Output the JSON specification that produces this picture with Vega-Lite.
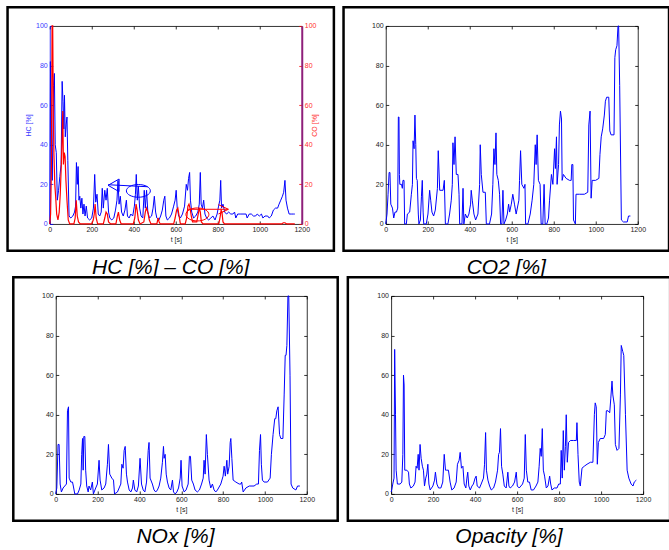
{
  "$schema": "https://vega.github.io/schema/vega-lite/v6.json",
  "background": "white",
  "padding": {"left": 5.75, "top": 4.95, "right": 0, "bottom": 0},
  "datasets": {
    "hc": [{"t":0,"v":0},{"t":3,"v":82},{"t":7,"v":42},{"t":12,"v":22},{"t":18,"v":70},{"t":22,"v":76},{"t":26,"v":40},{"t":31,"v":36},{"t":36,"v":12},{"t":42,"v":17},{"t":48,"v":24},{"t":54,"v":30},{"t":59,"v":72},{"t":63,"v":62},{"t":67,"v":48},{"t":70,"v":65},{"t":74,"v":44},{"t":78,"v":50},{"t":82,"v":54},{"t":86,"v":32},{"t":92,"v":4},{"t":100,"v":3},{"t":110,"v":4},{"t":118,"v":6},{"t":123,"v":9},{"t":127,"v":31},{"t":131,"v":20},{"t":135,"v":29},{"t":139,"v":12},{"t":143,"v":14},{"t":148,"v":8},{"t":153,"v":13},{"t":158,"v":5},{"t":163,"v":10},{"t":168,"v":4},{"t":174,"v":9},{"t":180,"v":3},{"t":190,"v":2},{"t":200,"v":3},{"t":208,"v":8},{"t":214,"v":25},{"t":219,"v":11},{"t":225,"v":15},{"t":231,"v":5},{"t":238,"v":4},{"t":245,"v":6},{"t":250,"v":18},{"t":255,"v":8},{"t":262,"v":17},{"t":268,"v":12},{"t":274,"v":18},{"t":280,"v":6},{"t":286,"v":3},{"t":295,"v":2},{"t":305,"v":3},{"t":313,"v":7},{"t":320,"v":12},{"t":325,"v":22},{"t":330,"v":10},{"t":336,"v":14},{"t":342,"v":6},{"t":350,"v":4},{"t":358,"v":7},{"t":365,"v":12},{"t":370,"v":4},{"t":378,"v":3},{"t":386,"v":5},{"t":395,"v":4},{"t":403,"v":9},{"t":408,"v":15},{"t":412,"v":25},{"t":417,"v":12},{"t":422,"v":19},{"t":428,"v":8},{"t":435,"v":4},{"t":443,"v":3},{"t":450,"v":17},{"t":455,"v":8},{"t":461,"v":17},{"t":467,"v":6},{"t":475,"v":3},{"t":485,"v":4},{"t":492,"v":8},{"t":498,"v":14},{"t":504,"v":6},{"t":510,"v":3},{"t":520,"v":2},{"t":528,"v":4},{"t":536,"v":7},{"t":543,"v":12},{"t":548,"v":14},{"t":553,"v":4},{"t":560,"v":2},{"t":570,"v":3},{"t":580,"v":5},{"t":590,"v":9},{"t":597,"v":12},{"t":602,"v":17},{"t":607,"v":8},{"t":614,"v":4},{"t":622,"v":3},{"t":632,"v":5},{"t":642,"v":9},{"t":650,"v":20},{"t":656,"v":17},{"t":661,"v":23},{"t":666,"v":26},{"t":670,"v":12},{"t":676,"v":6},{"t":685,"v":3},{"t":695,"v":4},{"t":705,"v":6},{"t":712,"v":10},{"t":717,"v":26},{"t":721,"v":10},{"t":727,"v":8},{"t":733,"v":12},{"t":739,"v":5},{"t":747,"v":3},{"t":757,"v":2},{"t":767,"v":3},{"t":777,"v":4},{"t":787,"v":2},{"t":797,"v":5},{"t":804,"v":9},{"t":810,"v":12},{"t":814,"v":22},{"t":818,"v":8},{"t":825,"v":10},{"t":833,"v":6},{"t":842,"v":5},{"t":852,"v":6},{"t":862,"v":5},{"t":872,"v":5},{"t":880,"v":6},{"t":886,"v":3},{"t":895,"v":5},{"t":910,"v":5},{"t":925,"v":5},{"t":935,"v":5},{"t":940,"v":3},{"t":950,"v":5},{"t":960,"v":5},{"t":970,"v":4},{"t":980,"v":4},{"t":988,"v":5},{"t":998,"v":4},{"t":1008,"v":5},{"t":1015,"v":3},{"t":1025,"v":4},{"t":1038,"v":4},{"t":1045,"v":3},{"t":1055,"v":4},{"t":1065,"v":7},{"t":1075,"v":8},{"t":1085,"v":8},{"t":1092,"v":10},{"t":1100,"v":12},{"t":1108,"v":14},{"t":1114,"v":16},{"t":1120,"v":22},{"t":1125,"v":12},{"t":1132,"v":8},{"t":1140,"v":5},{"t":1150,"v":5},{"t":1160,"v":5},{"t":1167,"v":5}],
    "co": [{"t":0,"v":0},{"t":4,"v":5},{"t":8,"v":30},{"t":11,"v":100},{"t":14,"v":100},{"t":17,"v":55},{"t":20,"v":35},{"t":24,"v":20},{"t":28,"v":14},{"t":33,"v":5},{"t":39,"v":2},{"t":45,"v":6},{"t":50,"v":15},{"t":55,"v":30},{"t":59,"v":45},{"t":62,"v":57},{"t":65,"v":30},{"t":69,"v":36},{"t":73,"v":34},{"t":77,"v":22},{"t":82,"v":12},{"t":88,"v":2},{"t":95,"v":0},{"t":115,"v":0},{"t":121,"v":3},{"t":126,"v":12},{"t":131,"v":4},{"t":137,"v":1},{"t":145,"v":0},{"t":200,"v":0},{"t":207,"v":2},{"t":212,"v":5},{"t":216,"v":10},{"t":221,"v":3},{"t":228,"v":0},{"t":255,"v":0},{"t":262,"v":3},{"t":268,"v":6},{"t":274,"v":5},{"t":280,"v":1},{"t":290,"v":0},{"t":315,"v":0},{"t":322,"v":4},{"t":327,"v":6},{"t":333,"v":2},{"t":340,"v":0},{"t":398,"v":0},{"t":405,"v":3},{"t":411,"v":10},{"t":416,"v":7},{"t":422,"v":2},{"t":430,"v":0},{"t":448,"v":1},{"t":455,"v":6},{"t":460,"v":8},{"t":467,"v":6},{"t":474,"v":2},{"t":482,"v":0},{"t":510,"v":0},{"t":516,"v":3},{"t":521,"v":1},{"t":526,"v":0},{"t":590,"v":0},{"t":597,"v":3},{"t":604,"v":7},{"t":610,"v":8},{"t":616,"v":4},{"t":622,"v":0},{"t":645,"v":0},{"t":652,"v":3},{"t":658,"v":9},{"t":663,"v":10},{"t":668,"v":8},{"t":674,"v":4},{"t":680,"v":1},{"t":700,"v":1},{"t":707,"v":5},{"t":712,"v":8},{"t":717,"v":6},{"t":722,"v":1},{"t":730,"v":0},{"t":805,"v":0},{"t":812,"v":4},{"t":816,"v":7},{"t":820,"v":6},{"t":825,"v":1},{"t":832,"v":0},{"t":1105,"v":0},{"t":1112,"v":0.6},{"t":1120,"v":0.6},{"t":1128,"v":0},{"t":1167,"v":0}],
    "co2": [{"t":0,"v":0},{"t":6,"v":5},{"t":11,"v":15},{"t":16,"v":26},{"t":20,"v":26},{"t":24,"v":10},{"t":32,"v":8},{"t":38,"v":3},{"t":44,"v":6},{"t":51,"v":6},{"t":57,"v":8},{"t":60,"v":54},{"t":63,"v":54},{"t":65,"v":25},{"t":67,"v":20},{"t":75,"v":20},{"t":79,"v":18},{"t":82,"v":22},{"t":87,"v":22},{"t":90,"v":0},{"t":98,"v":0},{"t":103,"v":5},{"t":114,"v":6},{"t":122,"v":15},{"t":127,"v":20},{"t":130,"v":42},{"t":135,"v":38},{"t":139,"v":55},{"t":143,"v":40},{"t":146,"v":23},{"t":150,"v":22},{"t":155,"v":5},{"t":158,"v":0},{"t":165,"v":2},{"t":170,"v":14},{"t":174,"v":22},{"t":178,"v":6},{"t":181,"v":0},{"t":193,"v":0},{"t":201,"v":5},{"t":209,"v":17},{"t":214,"v":12},{"t":220,"v":6},{"t":228,"v":4},{"t":236,"v":7},{"t":246,"v":18},{"t":250,"v":37},{"t":257,"v":17},{"t":273,"v":17},{"t":279,"v":22},{"t":284,"v":0},{"t":296,"v":0},{"t":304,"v":5},{"t":312,"v":12},{"t":317,"v":20},{"t":320,"v":41},{"t":325,"v":30},{"t":330,"v":44},{"t":336,"v":25},{"t":344,"v":25},{"t":349,"v":15},{"t":352,"v":0},{"t":363,"v":0},{"t":368,"v":18},{"t":372,"v":0},{"t":379,"v":5},{"t":388,"v":3},{"t":396,"v":5},{"t":404,"v":10},{"t":407,"v":17},{"t":412,"v":12},{"t":420,"v":5},{"t":428,"v":2},{"t":439,"v":5},{"t":447,"v":20},{"t":450,"v":40},{"t":455,"v":25},{"t":463,"v":16},{"t":474,"v":16},{"t":479,"v":0},{"t":494,"v":0},{"t":504,"v":5},{"t":510,"v":20},{"t":515,"v":38},{"t":520,"v":30},{"t":525,"v":46},{"t":529,"v":25},{"t":536,"v":22},{"t":542,"v":15},{"t":547,"v":0},{"t":553,"v":0},{"t":558,"v":17},{"t":563,"v":0},{"t":571,"v":2},{"t":579,"v":5},{"t":585,"v":10},{"t":590,"v":6},{"t":598,"v":10},{"t":605,"v":15},{"t":613,"v":10},{"t":621,"v":5},{"t":634,"v":12},{"t":637,"v":22},{"t":642,"v":37},{"t":648,"v":20},{"t":658,"v":18},{"t":663,"v":20},{"t":666,"v":0},{"t":677,"v":0},{"t":688,"v":5},{"t":697,"v":12},{"t":705,"v":20},{"t":712,"v":40},{"t":716,"v":30},{"t":721,"v":45},{"t":727,"v":22},{"t":735,"v":20},{"t":740,"v":0},{"t":748,"v":0},{"t":754,"v":20},{"t":759,"v":0},{"t":767,"v":0},{"t":775,"v":3},{"t":780,"v":12},{"t":789,"v":25},{"t":796,"v":20},{"t":804,"v":38},{"t":808,"v":28},{"t":813,"v":44},{"t":816,"v":20},{"t":823,"v":30},{"t":827,"v":50},{"t":832,"v":57},{"t":837,"v":53},{"t":840,"v":22},{"t":846,"v":25},{"t":859,"v":23},{"t":875,"v":22},{"t":883,"v":22},{"t":886,"v":30},{"t":891,"v":30},{"t":894,"v":2},{"t":903,"v":0},{"t":906,"v":15},{"t":922,"v":15},{"t":946,"v":15},{"t":962,"v":16},{"t":967,"v":50},{"t":973,"v":57},{"t":978,"v":13},{"t":983,"v":22},{"t":999,"v":22},{"t":1015,"v":23},{"t":1020,"v":35},{"t":1026,"v":44},{"t":1033,"v":48},{"t":1041,"v":55},{"t":1046,"v":62},{"t":1052,"v":64},{"t":1062,"v":64},{"t":1067,"v":47},{"t":1073,"v":45},{"t":1087,"v":45},{"t":1091,"v":84},{"t":1095,"v":88},{"t":1101,"v":90},{"t":1106,"v":100},{"t":1109,"v":100},{"t":1114,"v":70},{"t":1122,"v":2},{"t":1132,"v":1},{"t":1150,"v":1},{"t":1156,"v":4},{"t":1165,"v":4}],
    "nox": [{"t":0,"v":0},{"t":5,"v":3},{"t":11,"v":25},{"t":16,"v":25},{"t":21,"v":5},{"t":27,"v":1},{"t":35,"v":3},{"t":43,"v":4},{"t":51,"v":5},{"t":56,"v":42},{"t":61,"v":44},{"t":64,"v":8},{"t":72,"v":6},{"t":80,"v":6},{"t":84,"v":4},{"t":91,"v":0},{"t":104,"v":0},{"t":112,"v":2},{"t":120,"v":5},{"t":124,"v":20},{"t":128,"v":28},{"t":131,"v":12},{"t":134,"v":29},{"t":139,"v":29},{"t":143,"v":12},{"t":148,"v":4},{"t":155,"v":1},{"t":159,"v":4},{"t":167,"v":2},{"t":175,"v":6},{"t":180,"v":0},{"t":191,"v":3},{"t":199,"v":5},{"t":207,"v":17},{"t":212,"v":7},{"t":220,"v":2},{"t":231,"v":3},{"t":239,"v":5},{"t":247,"v":15},{"t":252,"v":25},{"t":258,"v":10},{"t":268,"v":8},{"t":276,"v":7},{"t":281,"v":0},{"t":295,"v":1},{"t":303,"v":3},{"t":311,"v":5},{"t":316,"v":15},{"t":322,"v":13},{"t":327,"v":22},{"t":332,"v":24},{"t":338,"v":10},{"t":343,"v":6},{"t":351,"v":2},{"t":359,"v":1},{"t":367,"v":3},{"t":371,"v":7},{"t":378,"v":2},{"t":387,"v":1},{"t":395,"v":4},{"t":403,"v":18},{"t":410,"v":5},{"t":418,"v":2},{"t":426,"v":1},{"t":434,"v":6},{"t":442,"v":22},{"t":446,"v":26},{"t":451,"v":8},{"t":462,"v":5},{"t":470,"v":2},{"t":478,"v":1},{"t":486,"v":2},{"t":494,"v":4},{"t":502,"v":8},{"t":510,"v":16},{"t":515,"v":24},{"t":518,"v":18},{"t":523,"v":20},{"t":528,"v":10},{"t":534,"v":6},{"t":542,"v":3},{"t":550,"v":2},{"t":558,"v":7},{"t":563,"v":1},{"t":571,"v":0},{"t":579,"v":1},{"t":587,"v":3},{"t":595,"v":8},{"t":599,"v":17},{"t":604,"v":4},{"t":614,"v":1},{"t":623,"v":2},{"t":633,"v":5},{"t":639,"v":19},{"t":644,"v":19},{"t":650,"v":7},{"t":658,"v":5},{"t":666,"v":2},{"t":677,"v":1},{"t":687,"v":2},{"t":697,"v":5},{"t":705,"v":8},{"t":709,"v":17},{"t":714,"v":10},{"t":720,"v":30},{"t":725,"v":20},{"t":733,"v":7},{"t":741,"v":3},{"t":749,"v":5},{"t":757,"v":2},{"t":765,"v":1},{"t":773,"v":2},{"t":789,"v":5},{"t":800,"v":9},{"t":805,"v":14},{"t":811,"v":9},{"t":818,"v":17},{"t":822,"v":10},{"t":829,"v":14},{"t":834,"v":26},{"t":837,"v":28},{"t":842,"v":18},{"t":848,"v":7},{"t":861,"v":6},{"t":877,"v":5},{"t":885,"v":5},{"t":889,"v":6},{"t":896,"v":1},{"t":909,"v":3},{"t":925,"v":4},{"t":948,"v":4},{"t":961,"v":5},{"t":969,"v":5},{"t":974,"v":22},{"t":979,"v":30},{"t":983,"v":15},{"t":988,"v":7},{"t":996,"v":6},{"t":1012,"v":6},{"t":1025,"v":8},{"t":1031,"v":20},{"t":1039,"v":30},{"t":1047,"v":38},{"t":1052,"v":38},{"t":1057,"v":42},{"t":1063,"v":44},{"t":1070,"v":30},{"t":1076,"v":28},{"t":1086,"v":28},{"t":1092,"v":50},{"t":1097,"v":70},{"t":1101,"v":70},{"t":1105,"v":75},{"t":1110,"v":100},{"t":1114,"v":100},{"t":1120,"v":60},{"t":1125,"v":5},{"t":1133,"v":3},{"t":1148,"v":2},{"t":1156,"v":4},{"t":1167,"v":4}],
    "opacity": [{"t":0,"v":1},{"t":3,"v":2},{"t":8,"v":5},{"t":14,"v":8},{"t":17,"v":73},{"t":21,"v":40},{"t":24,"v":12},{"t":30,"v":5},{"t":43,"v":5},{"t":51,"v":6},{"t":56,"v":20},{"t":59,"v":60},{"t":62,"v":55},{"t":65,"v":12},{"t":75,"v":12},{"t":83,"v":11},{"t":87,"v":5},{"t":94,"v":3},{"t":106,"v":4},{"t":114,"v":6},{"t":119,"v":14},{"t":124,"v":13},{"t":129,"v":20},{"t":133,"v":12},{"t":138,"v":25},{"t":143,"v":18},{"t":149,"v":14},{"t":154,"v":12},{"t":159,"v":4},{"t":165,"v":8},{"t":170,"v":10},{"t":175,"v":15},{"t":180,"v":5},{"t":186,"v":2},{"t":199,"v":4},{"t":207,"v":7},{"t":211,"v":11},{"t":218,"v":5},{"t":226,"v":3},{"t":237,"v":3},{"t":246,"v":6},{"t":253,"v":20},{"t":259,"v":12},{"t":265,"v":12},{"t":273,"v":12},{"t":281,"v":6},{"t":289,"v":2},{"t":300,"v":3},{"t":310,"v":6},{"t":316,"v":15},{"t":324,"v":17},{"t":329,"v":21},{"t":335,"v":13},{"t":342,"v":14},{"t":348,"v":5},{"t":356,"v":3},{"t":361,"v":8},{"t":365,"v":11},{"t":370,"v":4},{"t":377,"v":2},{"t":385,"v":4},{"t":392,"v":5},{"t":400,"v":8},{"t":405,"v":9},{"t":410,"v":4},{"t":421,"v":3},{"t":429,"v":5},{"t":440,"v":8},{"t":445,"v":15},{"t":450,"v":31},{"t":454,"v":12},{"t":461,"v":7},{"t":469,"v":4},{"t":477,"v":2},{"t":488,"v":3},{"t":497,"v":6},{"t":507,"v":12},{"t":512,"v":20},{"t":516,"v":21},{"t":521,"v":33},{"t":526,"v":14},{"t":532,"v":10},{"t":539,"v":4},{"t":548,"v":3},{"t":556,"v":11},{"t":561,"v":4},{"t":567,"v":3},{"t":578,"v":4},{"t":588,"v":6},{"t":596,"v":11},{"t":601,"v":4},{"t":610,"v":3},{"t":618,"v":4},{"t":626,"v":5},{"t":634,"v":8},{"t":639,"v":30},{"t":644,"v":12},{"t":651,"v":6},{"t":659,"v":6},{"t":667,"v":2},{"t":678,"v":2},{"t":690,"v":4},{"t":699,"v":6},{"t":705,"v":14},{"t":710,"v":23},{"t":715,"v":19},{"t":720,"v":33},{"t":725,"v":12},{"t":731,"v":9},{"t":739,"v":3},{"t":747,"v":4},{"t":755,"v":9},{"t":760,"v":5},{"t":766,"v":2},{"t":777,"v":3},{"t":790,"v":3},{"t":798,"v":5},{"t":806,"v":5},{"t":810,"v":22},{"t":815,"v":8},{"t":820,"v":32},{"t":825,"v":12},{"t":830,"v":24},{"t":834,"v":40},{"t":839,"v":16},{"t":845,"v":26},{"t":854,"v":27},{"t":869,"v":27},{"t":882,"v":27},{"t":885,"v":36},{"t":890,"v":20},{"t":896,"v":6},{"t":901,"v":4},{"t":909,"v":13},{"t":920,"v":14},{"t":933,"v":15},{"t":949,"v":16},{"t":961,"v":16},{"t":968,"v":40},{"t":972,"v":46},{"t":977,"v":44},{"t":982,"v":15},{"t":987,"v":26},{"t":996,"v":28},{"t":1012,"v":28},{"t":1020,"v":30},{"t":1025,"v":42},{"t":1033,"v":42},{"t":1041,"v":41},{"t":1046,"v":48},{"t":1052,"v":57},{"t":1056,"v":50},{"t":1063,"v":45},{"t":1068,"v":25},{"t":1076,"v":22},{"t":1085,"v":23},{"t":1092,"v":50},{"t":1096,"v":75},{"t":1103,"v":72},{"t":1108,"v":70},{"t":1116,"v":40},{"t":1124,"v":12},{"t":1132,"v":8},{"t":1143,"v":5},{"t":1152,"v":4},{"t":1158,"v":6},{"t":1168,"v":7}]
  },
  "config": {
    "view": {"stroke": null},
    "axis": {"grid": false, "domainColor": "black", "domainWidth": 0.8, "tickColor": "black", "tickWidth": 0.8, "tickSize": -3, "labelFont": "Liberation Sans", "labelFontSize": 7, "labelColor": "#222", "labelPadding": 5.6, "titleFont": "Liberation Sans", "titleFontSize": 7, "titleFontWeight": "normal", "titleColor": "#222", "labelFlush": false, "labelOverlap": false, "labelBound": false, "format": "d"},
    "axisX": {"labelPadding": 4.8},
    "title": {"font": "Liberation Sans", "fontSize": 21, "fontStyle": "italic", "fontWeight": "normal", "color": "black", "orient": "bottom", "anchor": "middle", "frame": "bounds", "offset": 5.5}
  },
  "columns": 1,
  "spacing": {"row": -4, "column": 0},
  "concat": [
    {
      "spacing": 6,
      "hconcat": [
        {
          "width": 252, "height": 198,
          "title": {"text": "HC [%] – CO [%]"},
          "layer": [
            {"data": {"name": "hc"}, "mark": {"type": "line", "color": "#0000ff", "strokeWidth": 1},
             "encoding": {
               "x": {"field": "t", "type": "quantitative", "scale": {"domain": [0, 1200], "nice": false, "zero": false}, "axis": {"orient": "bottom", "title": "t [s]", "values": [0,200,400,600,800,1000,1200], "titlePadding": 3}},
               "y": {"field": "v", "type": "quantitative", "scale": {"domain": [0, 100], "nice": false}, "axis": {"orient": "left", "title": "HC [%]", "values": [0,20,40,60,80,100], "labelColor": "#3a3aff", "titleColor": "#3a3aff", "domainColor": "#0000ff", "tickColor": "#0000ff", "titlePadding": 4}}
             }},
            {"data": {"name": "co"}, "mark": {"type": "line", "color": "#ff0000", "strokeWidth": 1.2},
             "encoding": {
               "x": {"field": "t", "type": "quantitative", "scale": {"domain": [0, 1200], "nice": false, "zero": false}, "axis": null},
               "y": {"field": "v", "type": "quantitative", "scale": {"domain": [0, 100], "nice": false}, "axis": {"orient": "right", "title": "CO [%]", "titleAngle": 270, "values": [0,20,40,60,80,100], "labelColor": "#ff3030", "titleColor": "#ff3030", "domainColor": "#8e1f7a", "domainWidth": 2, "tickColor": "#ff0000", "titlePadding": 1}}
             }},
            {"data": {"values": [{}]}, "mark": {"type": "point", "shape": "M-1,0A1,0.53 0 1,1 1,0A1,0.53 0 1,1 -1,0Z", "size": 576, "filled": false, "stroke": "#0000ff", "strokeWidth": 1, "opacity": 1},
             "encoding": {"x": {"datum": 422, "type": "quantitative", "scale": {"domain": [0, 1200], "nice": false, "zero": false}, "axis": null}, "y": {"datum": 16.7, "type": "quantitative", "scale": {"domain": [0, 100], "nice": false}, "axis": null}}},
            {"data": {"values": [{}]}, "mark": {"type": "rule", "color": "#0000ff", "strokeWidth": 1},
             "encoding": {"x": {"datum": 278, "type": "quantitative", "scale": {"domain": [0, 1200], "nice": false, "zero": false}, "axis": null}, "x2": {"datum": 465}, "y": {"datum": 19.8, "type": "quantitative", "scale": {"domain": [0, 100], "nice": false}, "axis": null}, "y2": {"datum": 18.8}}},
            {"data": {"values": [{}]}, "mark": {"type": "point", "shape": "M-1,0L1,-1.15L1,1.15Z", "size": 121, "filled": false, "stroke": "#0000ff", "strokeWidth": 1, "opacity": 1},
             "encoding": {"x": {"datum": 304, "type": "quantitative", "scale": {"domain": [0, 1200], "nice": false, "zero": false}, "axis": null}, "y": {"datum": 19.5, "type": "quantitative", "scale": {"domain": [0, 100], "nice": false}, "axis": null}}},
            {"data": {"values": [{}]}, "mark": {"type": "point", "shape": "M-1,0A1,0.565 0 1,1 1,0A1,0.565 0 1,1 -1,0Z", "size": 529, "filled": false, "stroke": "#ff0000", "strokeWidth": 1, "opacity": 1},
             "encoding": {"x": {"datum": 703, "type": "quantitative", "scale": {"domain": [0, 1200], "nice": false, "zero": false}, "axis": null}, "y": {"datum": 4.8, "type": "quantitative", "scale": {"domain": [0, 100], "nice": false}, "axis": null}}},
            {"data": {"values": [{}]}, "mark": {"type": "rule", "color": "#ff0000", "strokeWidth": 1},
             "encoding": {"x": {"datum": 655, "type": "quantitative", "scale": {"domain": [0, 1200], "nice": false, "zero": false}, "axis": null}, "x2": {"datum": 850}, "y": {"datum": 7.4, "type": "quantitative", "scale": {"domain": [0, 100], "nice": false}, "axis": null}, "y2": {"datum": 7.4}}},
            {"data": {"values": [{}]}, "mark": {"type": "point", "shape": "M-1,-0.93L1,0L-1,0.93", "size": 100, "filled": false, "stroke": "#ff0000", "strokeWidth": 1, "opacity": 1},
             "encoding": {"x": {"datum": 827, "type": "quantitative", "scale": {"domain": [0, 1200], "nice": false, "zero": false}, "axis": null}, "y": {"datum": 7.4, "type": "quantitative", "scale": {"domain": [0, 100], "nice": false}, "axis": null}}},
            {"data": {"values": [{}]}, "mark": {"type": "rect", "fill": "transparent", "stroke": "black", "strokeWidth": 2.5},
             "encoding": {"x": {"datum": -201, "type": "quantitative", "scale": {"domain": [0, 1200], "nice": false, "zero": false}, "axis": {"orient": "top", "labels": false, "title": null, "values": [0,200,400,600,800,1000,1200]}}, "x2": {"datum": 1353}, "y": {"datum": 109.5, "type": "quantitative", "scale": {"domain": [0, 100], "nice": false}, "axis": null}, "y2": {"datum": -13.5}}}
          ],
          "resolve": {"scale": {"y": "independent"}, "axis": {"x": "independent", "y": "independent"}}
        },
        {
          "width": 252, "height": 198,
          "title": {"text": "CO2 [%]"},
          "layer": [
            {"data": {"name": "co2"}, "mark": {"type": "line", "color": "#0000ff", "strokeWidth": 1},
             "encoding": {
               "x": {"field": "t", "type": "quantitative", "scale": {"domain": [0, 1200], "nice": false, "zero": false}, "axis": {"orient": "bottom", "title": "t [s]", "values": [0,200,400,600,800,1000,1200], "titlePadding": 3}},
               "y": {"field": "v", "type": "quantitative", "scale": {"domain": [0, 100], "nice": false}, "axis": {"orient": "left", "title": null, "values": [0,20,40,60,80,100]}}
             }},
            {"data": {"values": [{}]}, "mark": {"type": "rect", "fill": "transparent", "stroke": "black", "strokeWidth": 2.5},
             "encoding": {"x": {"datum": -201, "type": "quantitative", "scale": {"domain": [0, 1200], "nice": false, "zero": false}, "axis": {"orient": "top", "labels": false, "title": null, "values": [0,200,400,600,800,1000,1200]}}, "x2": {"datum": 1349}, "y": {"datum": 109.5, "type": "quantitative", "scale": {"domain": [0, 100], "nice": false}, "axis": {"orient": "right", "labels": false, "title": null, "values": [0,20,40,60,80,100]}}, "y2": {"datum": -13.5}}}
          ],
          "resolve": {"axis": {"x": "independent", "y": "independent"}}
        }
      ]
    },
    {
      "spacing": 6.35,
      "hconcat": [
        {
          "width": 257, "height": 198,
          "title": {"text": "NOx [%]", "offset": 4},
          "layer": [
            {"data": {"name": "nox"}, "mark": {"type": "line", "color": "#0000ff", "strokeWidth": 1},
             "encoding": {
               "x": {"field": "t", "type": "quantitative", "scale": {"domain": [0, 1200], "range": [6, 257], "nice": false, "zero": false}, "axis": {"orient": "bottom", "title": "t [s]", "values": [0,200,400,600,800,1000,1200], "titlePadding": 3}},
               "y": {"field": "v", "type": "quantitative", "scale": {"domain": [0, 100], "nice": false}, "axis": {"orient": "left", "title": null, "values": [0,20,40,60,80,100], "offset": -6}}
             }},
            {"data": {"values": [{}]}, "mark": {"type": "rect", "fill": "transparent", "stroke": "black", "strokeWidth": 2.5},
             "encoding": {"x": {"datum": -203, "type": "quantitative", "scale": {"domain": [0, 1200], "range": [6, 257], "nice": false, "zero": false}, "axis": {"orient": "top", "labels": false, "title": null, "values": [0,200,400,600,800,1000,1200]}}, "x2": {"datum": 1348}, "y": {"datum": 109.5, "type": "quantitative", "scale": {"domain": [0, 100], "nice": false}, "axis": {"orient": "right", "labels": false, "title": null, "values": [0,20,40,60,80,100]}}, "y2": {"datum": -13.5}}}
          ],
          "resolve": {"axis": {"x": "independent", "y": "independent"}}
        },
        {
          "width": 252, "height": 198,
          "title": {"text": "Opacity [%]", "offset": 4},
          "layer": [
            {"data": {"name": "opacity"}, "mark": {"type": "line", "color": "#0000ff", "strokeWidth": 1},
             "encoding": {
               "x": {"field": "t", "type": "quantitative", "scale": {"domain": [0, 1200], "nice": false, "zero": false}, "axis": {"orient": "bottom", "title": "t [s]", "values": [0,200,400,600,800,1000,1200], "titlePadding": 3}},
               "y": {"field": "v", "type": "quantitative", "scale": {"domain": [0, 100], "nice": false}, "axis": {"orient": "left", "title": null, "values": [0,20,40,60,80,100]}}
             }},
            {"data": {"values": [{}]}, "mark": {"type": "rect", "fill": "transparent", "stroke": "black", "strokeWidth": 2.5},
             "encoding": {"x": {"datum": -206, "type": "quantitative", "scale": {"domain": [0, 1200], "nice": false, "zero": false}, "axis": {"orient": "top", "labels": false, "title": null, "values": [0,200,400,600,800,1000,1200]}}, "x2": {"datum": 1329}, "y": {"datum": 109.5, "type": "quantitative", "scale": {"domain": [0, 100], "nice": false}, "axis": {"orient": "right", "labels": false, "title": null, "values": [0,20,40,60,80,100]}}, "y2": {"datum": -13.5}}}
          ],
          "resolve": {"axis": {"x": "independent", "y": "independent"}}
        }
      ]
    }
  ]
}
